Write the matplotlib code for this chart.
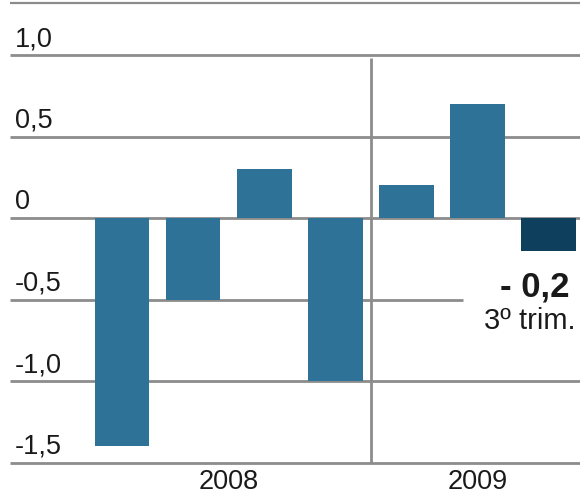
import numpy as np
import matplotlib
matplotlib.use("Agg")
import matplotlib.pyplot as plt

plt.rcParams['font.family'] = ['Liberation Sans', 'DejaVu Sans']

# quarterly values 2008 Q1..Q4, 2009 Q1..Q3
values = [-1.4, -0.5, 0.3, -1.0, 0.2, 0.7, -0.2]
years = ["2008", "2009"]
year_bars = [[0, 1, 2, 3], [4, 5, 6]]
grid_vals = [1.0, 0.5, 0.0, -0.5, -1.0, -1.5]
grid_labels = ["1,0", "0,5", "0", "-0,5", "-1,0", "-1,5"]
note_value = "- 0,2"
note_text = "3º trim."

BAR = "#2f7297"
LAST = "#0e3f5c"
GRID = "#8c8c8c"
TXT = "#1a1a1a"

fig = plt.figure(figsize=(5.8, 4.95), dpi=100)
ax = fig.add_axes([0, 0, 1, 1])
ax.set_axis_off()

# pixel mapping: x = 122 + 71.1*i ; y = 218 - 163*v
ax.set_xlim(-122 / 71.1, (580 - 122) / 71.1)
ax.set_ylim((218 - 495) / 163, 218 / 163)

x = np.arange(len(values))
x_left = -112 / 71.1

# top rule
ax.hlines(1.32, x_left, 10, color=GRID, lw=1.6, zorder=1)
for v in grid_vals:
    xmax = 4.8 if v == -0.5 else 10
    ax.hlines(v, x_left, xmax, color=GRID, lw=2.0, zorder=1)
ax.vlines(3.5, -1.5, 0.98, color=GRID, lw=2.0, zorder=1)

colors = [BAR] * (len(values) - 1) + [LAST]
ax.bar(x, values, width=0.77, color=colors, zorder=2)

for v, lab in zip(grid_vals, grid_labels):
    ax.text(-107 / 71.1, v + 0.055, lab, ha="left", va="baseline",
            fontsize=19.5, color=TXT)

for yr, idx in zip(years, year_bars):
    ax.text(np.mean(x[idx]), -1.62, yr, ha="center", va="center",
            fontsize=19.5, color=TXT)

ax.text((569 - 122) / 71.1, -0.48, note_value, ha="right", va="baseline",
        fontsize=25, fontweight="bold", color=TXT)
ax.text((575 - 122) / 71.1, -0.68, note_text, ha="right", va="baseline",
        fontsize=21, color=TXT)

fig.savefig("out.png", dpi=100)
